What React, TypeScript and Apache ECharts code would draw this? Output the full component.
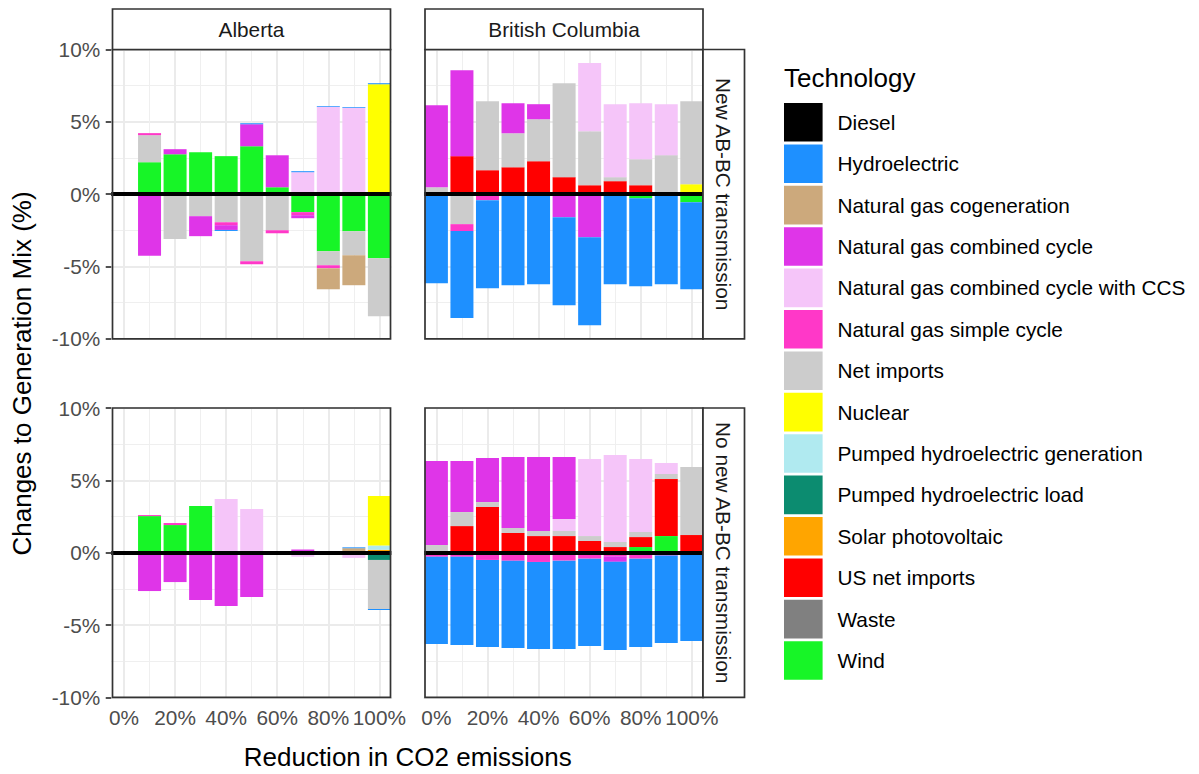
import React, { useEffect, useRef } from "react";
import * as echarts from "echarts";

// ---------- data ----------
const X_VALUES = [0, 10, 20, 30, 40, 50, 60, 70, 80, 90, 100];

const TECH_NAMES = [
  "Diesel",
  "Hydroelectric",
  "Natural gas cogeneration",
  "Natural gas combined cycle",
  "Natural gas combined cycle with CCS",
  "Natural gas simple cycle",
  "Net imports",
  "Nuclear",
  "Pumped hydroelectric generation",
  "Pumped hydroelectric load",
  "Solar photovoltaic",
  "US net imports",
  "Waste",
  "Wind",
];
const TECH_COLORS = [
  "#000000",
  "#1E90FF",
  "#CCA97C",
  "#DF35E8",
  "#F5C5F9",
  "#FF38C8",
  "#CCCCCC",
  "#FFFF00",
  "#B0EAF0",
  "#0C8C70",
  "#FFA500",
  "#FF0000",
  "#808080",
  "#17F527",
];

const PROVINCES = ["Alberta", "British Columbia"];
const SCENARIOS = ["New AB-BC transmission", "No new AB-BC transmission"];

// values per technology at X_VALUES (change in % of generation mix)
const AB_NEW: [string, number[]][] = [
  ["Wind", [0, 2.21, 2.76, 2.9, 2.63, 3.32, 0.48, -1.24, -3.94, -2.56, -4.42]],
  ["Nuclear", [0, 0, 0, 0, 0, 0, 0, 0, 0, 0, 7.6]],
  ["Net imports", [0, 1.87, -3.09, -1.52, -1.94, -4.63, -2.49, 0, -0.97, -1.66, -4.01]],
  ["Natural gas simple cycle", [0, 0.14, 0, 0, -0.2, -0.21, -0.21, -0.21, -0.21, 0, 0]],
  ["Natural gas combined cycle with CCS", [0, 0, 0, 0, 0, 0, 0, 1.52, 6.04, 5.97, 0]],
  ["Natural gas combined cycle", [0, -4.26, 0.35, -1.38, -0.33, 1.52, 2.21, -0.21, 0, 0, 0]],
  ["Natural gas cogeneration", [0, 0, 0, 0, 0, 0, 0, 0, -1.45, -2.07, 0]],
  ["Hydroelectric", [0, 0, 0, 0, -0.07, 0.07, 0, 0.07, 0.05, 0.05, 0.07]],
];

const BC_NEW: [string, number[]][] = [
  ["Wind", [0, 0, 0, 0, 0, 0, 0, 0, -0.28, 0, -0.55]],
  ["US net imports", [0, 2.63, 1.66, 1.87, 2.28, 1.18, 0.62, 0.9, 0.62, 0, 0]],
  ["Nuclear", [0, 0, 0, 0, 0, 0, 0, 0, 0, 0, 0.69]],
  ["Net imports", [0.48, -2.07, 4.77, 2.35, 2.9, 6.49, 3.73, 0.28, 1.8, 2.7, 5.74]],
  ["Natural gas simple cycle", [0, -0.48, -0.41, -0.12, 0, 0, 0, 0, 0, 0, 0]],
  ["Natural gas combined cycle with CCS", [0, 0, 0, 0, 0, 0, 4.71, 5.04, 3.87, 3.52, 0]],
  ["Natural gas combined cycle", [5.67, 5.94, 0, 2.07, 1.04, -1.59, -2.97, 0, 0, 0, 0]],
  ["Hydroelectric", [-6.15, -6.01, -6.09, -6.17, -6.22, -6.08, -6.09, -6.22, -6.08, -6.22, -6.02]],
];

const AB_NO_NEW: [string, number[]][] = [
  ["Wind", [0, 2.53, 1.91, 3.23, 0, 0, 0, 0, 0, 0, 0]],
  ["Solar photovoltaic", [0, 0, 0, 0, 0, 0, 0, 0, 0, 0, 0.2]],
  ["Pumped hydroelectric load", [0, 0, 0, 0, 0, 0, 0, 0, 0, 0, -0.5]],
  ["Pumped hydroelectric generation", [0, 0, 0, 0, 0, 0, 0, 0, 0, 0, 0.3]],
  ["Nuclear", [0, 0, 0, 0, 0, 0, 0, 0, 0, 0, 3.42]],
  ["Net imports", [0, 0, 0, 0, 0, 0, 0, 0, 0, 0, -3.39]],
  ["Natural gas simple cycle", [0, 0.07, 0.14, 0, 0, 0, 0, 0, 0, 0, 0]],
  ["Natural gas combined cycle with CCS", [0, 0, 0, 0, 3.71, 3.02, 0, -0.28, 0, -0.36, 0]],
  ["Natural gas combined cycle", [0, -2.65, -2.03, -3.27, -3.69, -3.06, 0, 0.22, 0, 0, 0]],
  ["Natural gas cogeneration", [0, 0, 0, 0, 0, 0, 0, 0, 0, 0.31, 0]],
  ["Hydroelectric", [0, 0, 0, 0, 0, 0, 0, 0, 0, 0.06, -0.07]],
];

const BC_NO_NEW: [string, number[]][] = [
  ["Wind", [0, 0, 0, 0, 0, 0, 0, 0, 0.39, 1.15, 0]],
  ["US net imports", [0, 1.84, 3.16, 1.36, 1.15, 1.15, 0.81, 0.39, 0.69, 3.94, 1.22]],
  ["Net imports", [0.53, 0.97, 0.34, 0.35, 0.35, 0.35, 0.34, 0.35, 0.35, 0.35, 4.7]],
  ["Natural gas simple cycle", [-0.28, -0.28, -0.5, -0.55, -0.64, -0.55, -0.41, -0.25, -0.41, -0.2, 0]],
  ["Natural gas combined cycle with CCS", [0, 0, 0, 0, 0, 0.83, 5.32, 6.01, 5.04, 0.76, 0]],
  ["Natural gas combined cycle", [5.81, 3.53, 3.04, 4.9, 5.11, 4.28, 0, -0.38, 0, 0, 0]],
  ["Hydroelectric", [-6.03, -6.1, -6.02, -6.04, -6.02, -6.11, -6.04, -6.1, -6.11, -6.04, -6.11]],
];

// ---------- layout ----------
const FONT = "'Liberation Sans', Arial, Helvetica, sans-serif";
const PANEL_W = 278;
const PANEL_H = 289.4;
const COL_LEFT = [112.5, 425];
const ROW_TOP = [49.5, 408];
const BAND = 25.54; // px per 10% step
const ZERO_X = [124.0, 436.4]; // pixel x of the 0% category centre per column
const STRIP_H = 40.5;
const RSTRIP_W = 41.5;
const SMALL = 20.8;
const BIG = 26;
const BORDER = 1.7;

export default function App() {
  const ref = useRef<HTMLDivElement>(null);

  useEffect(() => {
    if (!ref.current) return;
    const chart = echarts.init(ref.current, undefined, { renderer: "svg" });

    const panels = [AB_NEW, BC_NEW, AB_NO_NEW, BC_NO_NEW];
    const stackOrder = [...TECH_NAMES].reverse();
    const colorOf = (n: string) => TECH_COLORS[TECH_NAMES.indexOf(n)];
    const cats = X_VALUES.map(String);

    const grids: any[] = [];
    const xAxes: any[] = [];
    const yAxes: any[] = [];
    const series: any[] = [];
    const graphics: any[] = [];

    panels.forEach((rows, p) => {
      const row = Math.floor(p / 2);
      const col = p % 2;
      grids.push({
        left: ZERO_X[col] - BAND / 2,
        top: ROW_TOP[row],
        width: BAND * X_VALUES.length,
        height: PANEL_H,
        containLabel: false,
        show: false,
      });
      const bottom = row === 1;
      const left = col === 0;
      xAxes.push({
        type: "category",
        gridIndex: p,
        data: cats,
        boundaryGap: true,
        axisLine: { show: false },
        splitLine: { show: false },
        axisTick: {
          show: bottom,
          interval: 1,
          alignWithLabel: true,
          length: 6.5,
          lineStyle: { color: "#333333", width: BORDER },
        },
        axisLabel: {
          show: bottom,
          interval: 1,
          formatter: (v: string) => `${v}%`,
          color: "#4D4D4D",
          fontSize: SMALL,
          fontFamily: FONT,
          margin: 10,
        },
      });
      yAxes.push({
        type: "value",
        gridIndex: p,
        min: -10,
        max: 10,
        interval: 5,
        axisLine: { show: false },
        axisTick: {
          show: left,
          length: 5.5,
          lineStyle: { color: "#333333", width: BORDER },
        },
        axisLabel: {
          show: left,
          formatter: (v: number) => `${v}%`,
          color: "#4D4D4D",
          fontSize: SMALL,
          fontFamily: FONT,
          margin: 11,
        },
        splitLine: { show: true, lineStyle: { color: "#EBEBEB", width: 2 } },
        minorTick: { show: false, splitNumber: 2 },
        minorSplitLine: { show: true, lineStyle: { color: "#EFEFEF", width: 1.1 } },
      });

      // vertical grid lines at each category
      series.push({
        type: "line",
        xAxisIndex: p,
        yAxisIndex: p,
        data: [],
        silent: true,
        markLine: {
          z: 1,
          silent: true,
          symbol: ["none", "none"],
          label: { show: false },
          animation: false,
          data: X_VALUES.map((v) => ({
            xAxis: String(v),
            lineStyle: {
              color: v % 20 === 0 ? "#EBEBEB" : "#EFEFEF",
              width: v % 20 === 0 ? 2 : 1.1,
              type: "solid",
            },
          })),
        },
      });

      const map = new Map(rows);
      stackOrder.forEach((name) => {
        const vals = map.get(name);
        if (!vals) return;
        series.push({
          type: "bar",
          name,
          xAxisIndex: p,
          yAxisIndex: p,
          stack: "panel" + p,
          barWidth: 23,
          z: 2,
          silent: true,
          itemStyle: { color: colorOf(name) },
          data: vals,
        });
      });

      // zero reference line
      series.push({
        type: "line",
        xAxisIndex: p,
        yAxisIndex: p,
        data: [],
        silent: true,
        markLine: {
          z: 6,
          silent: true,
          symbol: ["none", "none"],
          label: { show: false },
          animation: false,
          data: [{ yAxis: 0, lineStyle: { color: "#000000", width: 4, type: "solid" } }],
        },
      });

      // panel border
      graphics.push({
        type: "rect",
        z: 100,
        silent: true,
        shape: { x: COL_LEFT[col], y: ROW_TOP[row], width: PANEL_W, height: PANEL_H },
        style: { fill: "transparent", stroke: "#333333", lineWidth: BORDER },
      });
    });

    // white gutter between the two columns (keeps marks inside the panel frames)
    graphics.push({
      type: "rect",
      z: 90,
      silent: true,
      shape: {
        x: COL_LEFT[0] + PANEL_W + BORDER / 2,
        y: ROW_TOP[0],
        width: COL_LEFT[1] - (COL_LEFT[0] + PANEL_W) - BORDER,
        height: ROW_TOP[1] + PANEL_H - ROW_TOP[0],
      },
      style: { fill: "#FFFFFF" },
    });

    // top strips
    PROVINCES.forEach((name, c) => {
      graphics.push({
        type: "rect",
        z: 100,
        shape: { x: COL_LEFT[c], y: ROW_TOP[0] - STRIP_H, width: PANEL_W, height: STRIP_H },
        style: { fill: "#FFFFFF", stroke: "#333333", lineWidth: BORDER },
      });
      graphics.push({
        type: "text",
        z: 101,
        x: COL_LEFT[c] + PANEL_W / 2,
        y: ROW_TOP[0] - STRIP_H / 2,
        style: {
          text: name,
          fontSize: SMALL,
          fontFamily: FONT,
          fill: "#1A1A1A",
          align: "center",
          verticalAlign: "middle",
        },
      });
    });

    // right strips
    SCENARIOS.forEach((name, r) => {
      const sx = COL_LEFT[1] + PANEL_W;
      graphics.push({
        type: "rect",
        z: 100,
        shape: { x: sx, y: ROW_TOP[r], width: RSTRIP_W, height: PANEL_H },
        style: { fill: "#FFFFFF", stroke: "#333333", lineWidth: BORDER },
      });
      graphics.push({
        type: "text",
        z: 101,
        x: sx + RSTRIP_W / 2,
        y: ROW_TOP[r] + PANEL_H / 2,
        rotation: -Math.PI / 2,
        style: {
          text: name,
          fontSize: SMALL,
          fontFamily: FONT,
          fill: "#1A1A1A",
          align: "center",
          verticalAlign: "middle",
        },
      });
    });

    // axis titles
    graphics.push({
      type: "text",
      x: 22,
      y: (ROW_TOP[0] + ROW_TOP[1] + PANEL_H) / 2,
      rotation: Math.PI / 2,
      style: {
        text: "Changes to Generation Mix (%)",
        fontSize: BIG,
        fontFamily: FONT,
        fill: "#000000",
        align: "center",
        verticalAlign: "middle",
      },
    });
    graphics.push({
      type: "text",
      x: (COL_LEFT[0] + COL_LEFT[1] + PANEL_W) / 2,
      y: 757,
      style: {
        text: "Reduction in CO2 emissions",
        fontSize: BIG,
        fontFamily: FONT,
        fill: "#000000",
        align: "center",
        verticalAlign: "middle",
      },
    });

    // legend
    graphics.push({
      type: "text",
      x: 784,
      y: 78,
      style: {
        text: "Technology",
        fontSize: BIG,
        fontFamily: FONT,
        fill: "#000000",
        align: "left",
        verticalAlign: "middle",
      },
    });
    const KEY = 38.6;
    const PITCH = 41.4;
    TECH_NAMES.forEach((name, i) => {
      const ky = 103 + i * PITCH;
      graphics.push({
        type: "rect",
        shape: { x: 784, y: ky, width: KEY, height: KEY },
        style: { fill: TECH_COLORS[i] },
      });
      graphics.push({
        type: "text",
        x: 837.5,
        y: ky + KEY / 2,
        style: {
          text: name,
          fontSize: SMALL,
          fontFamily: FONT,
          fill: "#000000",
          align: "left",
          verticalAlign: "middle",
        },
      });
    });

    chart.setOption({
      animation: false,
      backgroundColor: "#FFFFFF",
      textStyle: { fontFamily: FONT },
      grid: grids,
      xAxis: xAxes,
      yAxis: yAxes,
      series,
      graphic: { elements: graphics },
    });

    return () => chart.dispose();
  }, []);

  return (
    <div
      ref={ref}
      style={{ position: "absolute", left: 0, top: 0, width: 1199, height: 774 }}
    />
  );
}
